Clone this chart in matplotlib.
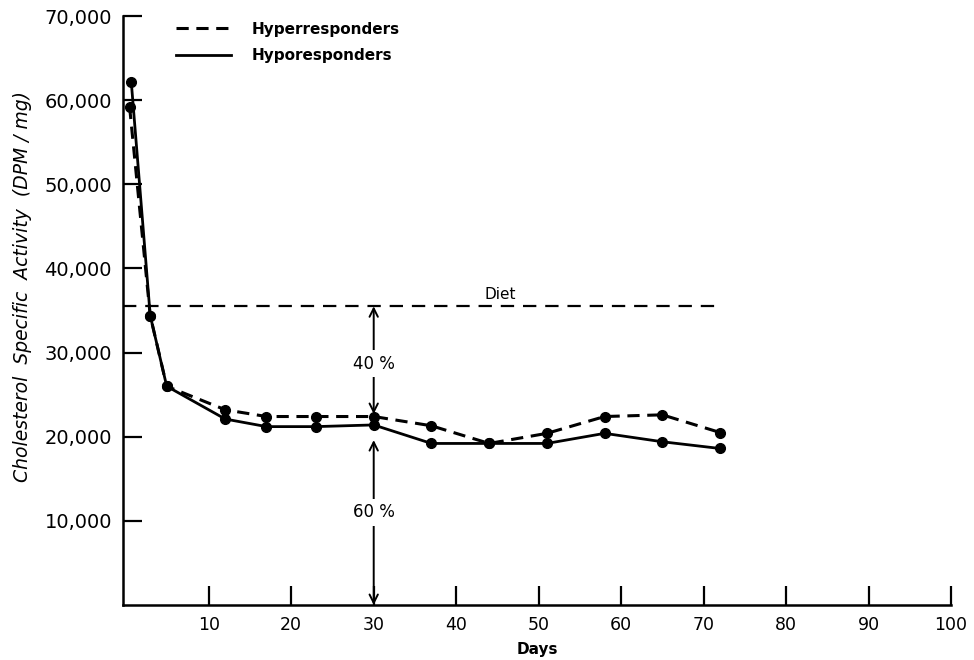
from matplotlib import pyplot as plt
from matplotlib.lines import Line2D
import numpy as np

# days sampled
days_hyper = [0.4, 2.9, 4.9, 12, 17, 23, 30, 37, 44, 51, 58, 65, 72]
days_hypo = [0.6, 2.9, 4.9, 12, 17, 23, 30, 37, 44, 51, 58, 65, 72]

# cholesterol specific activity (DPM/mg)
hyper = [59200, 34400, 26000, 23200, 22400, 22400, 22400, 21300, 19200, 20400, 22400, 22600, 20500]
hypo = [62200, 34400, 26000, 22100, 21200, 21200, 21400, 19200, 19200, 19200, 20400, 19400, 18600]

diet_level = 35500
diet_x = [-0.4, 72.2]

xticks = [10, 20, 30, 40, 50, 60, 70, 80, 90, 100]
yticks = [10000, 20000, 30000, 40000, 50000, 60000, 70000]
ytick_labels = ['10,000', '20,000', '30,000', '40,000', '50,000', '60,000', '70,000']

plt.rcParams['font.family'] = ['DejaVu Sans']

fig = plt.figure(figsize=(9.74, 6.6), dpi=100)
ax = fig.add_axes([123 / 974, 1 - 605 / 660, 828 / 974, (605 - 16) / 660])

ax.plot(days_hyper, hyper, color='black', lw=2.2, ls=(0, (4, 2.5)),
        marker='o', ms=7, label='Hyperresponders')
ax.plot(days_hypo, hypo, color='black', lw=2.0, ls='-',
        marker='o', ms=7, label='Hyporesponders')

# diet reference
ax.plot(diet_x, [diet_level, diet_level], color='black', lw=1.6, ls=(0, (6, 4)))
ax.text(45.3, diet_level + 500, 'Diet', ha='center', va='bottom', fontsize=11)

# 40 % / 60 % split arrows at day 30
ax.annotate('', xy=(30, 22700), xytext=(30, diet_level),
            arrowprops=dict(arrowstyle='<->,head_length=0.6,head_width=0.3', lw=1.4, color='black',
                            shrinkA=0, shrinkB=0))
ax.text(30, 28700, '40 %', ha='center', va='center', fontsize=12,
        bbox=dict(facecolor='white', edgecolor='none', pad=3))
ax.annotate('', xy=(30, 0), xytext=(30, 19600),
            arrowprops=dict(arrowstyle='<->,head_length=0.6,head_width=0.3', lw=1.4, color='black',
                            shrinkA=0, shrinkB=0))
ax.text(30, 11000, '60 %', ha='center', va='center', fontsize=12,
        bbox=dict(facecolor='white', edgecolor='none', pad=3))

ax.set_xlim(-0.4, 100)
ax.set_ylim(0, 70000)
ax.set_xticks(xticks)
ax.set_xticklabels([str(t) for t in xticks], fontsize=12.5)
ax.set_yticks(yticks)
ax.set_yticklabels(ytick_labels, fontsize=14)
ax.tick_params(axis='both', direction='in', length=14, width=1.6, pad=8)

for side in ['top', 'right']:
    ax.spines[side].set_visible(False)
for side in ['left', 'bottom']:
    ax.spines[side].set_linewidth(1.8)

ax.set_xlabel('Days', fontsize=11, fontweight='bold', labelpad=6)
ax.set_ylabel('Cholesterol  Specific  Activity  (DPM / mg)', fontsize=13.5,
              style='italic')
ax.yaxis.set_label_coords(-0.11, 0.54)

handles = [Line2D([], [], color='black', lw=2.2, ls=(0, (4, 2.5))),
           Line2D([], [], color='black', lw=2.0, ls='-')]
ax.legend(handles, ['Hyperresponders', 'Hyporesponders'], loc='upper left',
          bbox_to_anchor=(168 / 974, 1 - 14 / 660), bbox_transform=fig.transFigure,
          frameon=False, handlelength=3.6, handletextpad=1.4,
          labelspacing=0.75, borderpad=0, prop={'weight': 'bold', 'size': 11})

plt.savefig('out.png', dpi=100)
